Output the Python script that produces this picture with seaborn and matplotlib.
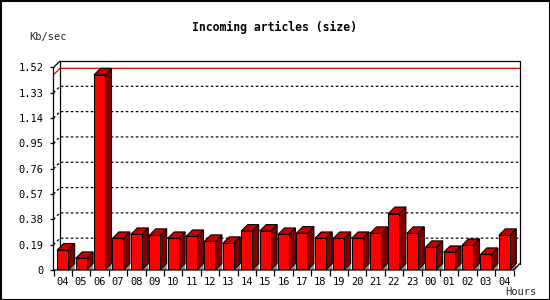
import numpy as np
import pandas as pd
import seaborn as sns
import matplotlib
matplotlib.use("Agg")
import matplotlib.pyplot as plt
from matplotlib.patches import Polygon, Rectangle

# hourly data
hours = ["04", "05", "06", "07", "08", "09", "10", "11", "12", "13", "14", "15",
         "16", "17", "18", "19", "20", "21", "22", "23", "00", "01", "02", "03", "04"]
kb_per_sec = [0.150, 0.087, 1.465, 0.237, 0.267, 0.260, 0.237, 0.252, 0.215, 0.200,
              0.292, 0.292, 0.267, 0.277, 0.237, 0.237, 0.237, 0.275, 0.424, 0.275,
              0.170, 0.132, 0.185, 0.117, 0.260]
y_ticks = [0, 0.19, 0.38, 0.57, 0.76, 0.95, 1.14, 1.33, 1.52]

front_red = "#ff0000"
top_red = "#c40000"
side_red = "#800000"
floor_gray = "#8c8c8c"

sns.set_theme(style="ticks")
plt.rcParams["font.family"] = ["DejaVu Sans Mono"]

df = pd.DataFrame({"slot": range(len(hours)), "rate": kb_per_sec})

fig = plt.figure(figsize=(5.5, 3), dpi=100, facecolor="white")
# front plane of the pseudo-3d chart, in pixel terms
ax = fig.add_axes([53.5 / 550, 30 / 300, 460 / 550, 202.5 / 300])
ax.set_facecolor("none")

sns.barplot(data=df, x="slot", y="rate", color=front_red, width=0.6,
            edgecolor="black", linewidth=0.75, saturation=1, ax=ax)
ax.set_xlim(-0.5, len(hours) - 0.5)
ax.set_ylim(0, y_ticks[-1])
for s in ax.spines.values():
    s.set_visible(False)

# depth offset (6.5 px right and up) in data units
depth_px = 6.5
dx = depth_px / (460 / len(hours))
dy = depth_px * y_ticks[-1] / 202.5
xl, xr = -0.5, len(hours) - 0.5
ytop = y_ticks[-1]

# back plane frame
ax.plot([xl + dx, xl + dx, xr + dx, xr + dx], [dy, ytop + dy, ytop + dy, dy],
        color="black", lw=0.9, clip_on=False, zorder=1)
# dotted grid on the back plane with a stub to the front
for v in y_ticks[1:-1]:
    ax.plot([xl, xl + dx, xr + dx], [v, v + dy, v + dy], color="black",
            lw=0.9, ls=(0, (2, 2)), clip_on=False, zorder=1)
# red line at the maximum
vmax = max(kb_per_sec)
ax.plot([xl, xl + dx, xr + dx], [vmax, vmax + dy, vmax + dy], color="#e00000",
        lw=0.9, clip_on=False, zorder=1.5)

# 3d faces for each bar
for i, p in enumerate(ax.patches):
    x0, w, h = p.get_x(), p.get_width(), p.get_height()
    x1 = x0 + w
    z = 2 + i * 0.01
    ax.add_patch(Polygon([(x1, 0), (x1 + dx, dy), (x1 + dx, 0)], closed=True,
                         fc=floor_gray, ec="none", zorder=z, clip_on=False))
    ax.add_patch(Polygon([(x1, 0), (x1 + dx, dy), (x1 + dx, h + dy), (x1, h)],
                         closed=True, fc=side_red, ec="black", lw=0.75,
                         zorder=z + 0.002, clip_on=False))
    ax.add_patch(Polygon([(x0, h), (x0 + dx, h + dy), (x1 + dx, h + dy), (x1, h)],
                         closed=True, fc=top_red, ec="black", lw=0.75,
                         zorder=z + 0.002, clip_on=False))
    p.set_zorder(z + 0.004)

# front axes lines
ax.plot([xl + dx, xl, xl, xr, xr + dx], [ytop + dy, ytop, 0, 0, dy],
        color="black", lw=0.9, clip_on=False, zorder=5)

ax.set_yticks(y_ticks)
ax.set_yticklabels(["0" if v == 0 else f"{v:.2f}" for v in y_ticks])
ax.set_xticks(range(len(hours)))
ax.set_xticklabels(hours)
ax.set_xticks(np.arange(-0.5, len(hours), 1), minor=True)
ax.tick_params(axis="y", length=3, width=0.9, pad=4, labelsize=7.5, colors="black")
ax.tick_params(axis="x", which="major", length=0, pad=5, labelsize=7.5, colors="black")
ax.tick_params(axis="x", which="minor", length=4, width=0.9, colors="black")
ax.set_xlabel("")
ax.set_ylabel("")

fig.text(0.5, 1 - 27 / 300, "Incoming articles (size)", ha="center", va="center",
         fontsize=8.3, fontweight="bold", color="black")
fig.text(29 / 550, 1 - 37 / 300, "Kb/sec", ha="left", va="center", fontsize=7.5)
fig.text(505 / 550, 1 - 292 / 300, "Hours", ha="left", va="center", fontsize=7.5)

fig.patches.append(Rectangle((0, 0), 1, 1, transform=fig.transFigure, fill=False,
                             ec="black", lw=2.2))

fig.savefig("out.png", dpi=100, facecolor="white")
